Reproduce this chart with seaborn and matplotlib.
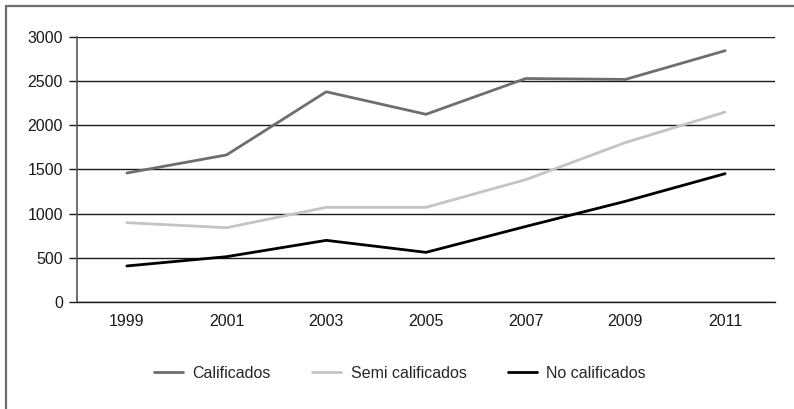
import matplotlib
matplotlib.use("Agg")
import matplotlib.pyplot as plt
from matplotlib.patches import Rectangle
from matplotlib.lines import Line2D
import seaborn as sns
import pandas as pd
import numpy as np

years = ["1999", "2001", "2003", "2005", "2007", "2009", "2011"]
calificados = [1460, 1665, 2380, 2125, 2530, 2520, 2845]
semi_calificados = [898, 841, 1072, 1072, 1385, 1805, 2150]
no_calificados = [408, 513, 698, 562, 855, 1140, 1453]

series_names = ["Calificados", "Semi calificados", "No calificados"]
series_colors = ["#6e6e6e", "#c4c4c4", "#000000"]

df = pd.DataFrame({
    "year": years * 3,
    "pos": list(range(len(years))) * 3,
    "value": calificados + semi_calificados + no_calificados,
    "serie": sum([[n] * len(years) for n in series_names], []),
})

sns.set_theme(style="white")
plt.rcParams["font.family"] = ["Liberation Sans", "DejaVu Sans"]

W, H = 794, 409
fig = plt.figure(figsize=(W / 100, H / 100), dpi=100)
ax = fig.add_axes([77 / W, 1 - 302 / H, (775 - 77) / W, (302 - 37) / H])

sns.lineplot(data=df, x="pos", y="value", hue="serie", hue_order=series_names,
             palette=series_colors, linewidth=2.0, ax=ax, legend=False, zorder=3)

ax.set_xlim(-0.5, len(years) - 0.5)
ax.set_ylim(0, 3000)
ax.set_yticks(np.arange(0, 3001, 500))
ax.set_yticklabels([str(v) for v in range(0, 3001, 500)], fontsize=11.5, color="#1a1a1a")
ax.yaxis.grid(True, color="#1a1a1a", linewidth=1.0, zorder=1)
ax.set_axisbelow(True)

# category labels centred, tick marks on the category boundaries
ax.set_xticks(range(len(years)))
ax.set_xticklabels(years, fontsize=11.5, color="#1a1a1a")
ax.set_xticks(np.arange(-0.5, len(years)), minor=True)
ax.tick_params(axis="x", which="major", length=0, pad=9)
ax.tick_params(axis="x", which="minor", length=9, width=1.0, color="#1a1a1a", direction="out")
ax.tick_params(axis="y", which="major", length=6, width=1.0, color="#1a1a1a", direction="out", pad=4, left=True)
ax.set_xlabel("")
ax.set_ylabel("")

for s in ["top", "right"]:
    ax.spines[s].set_visible(False)
ax.spines["left"].set_color("#555555")
ax.spines["left"].set_linewidth(1.2)
ax.spines["bottom"].set_color("#1a1a1a")
ax.spines["bottom"].set_linewidth(1.0)

handles = [Line2D([0], [0], color=c, linewidth=2.0) for c in series_colors]
fig.legend(handles, series_names, loc="center", bbox_to_anchor=(400 / W, 1 - 373 / H),
           ncol=3, frameon=False, fontsize=11.5, handlelength=1.8, columnspacing=2.6,
           handletextpad=0.6)

# outer frame
fig.patches.append(Rectangle((6 / W, -0.1), 1.2, (H - 6) / H + 0.1, transform=fig.transFigure,
                             fill=False, edgecolor="#6e6e6e", linewidth=1.6))

fig.savefig("out.png", dpi=100)
